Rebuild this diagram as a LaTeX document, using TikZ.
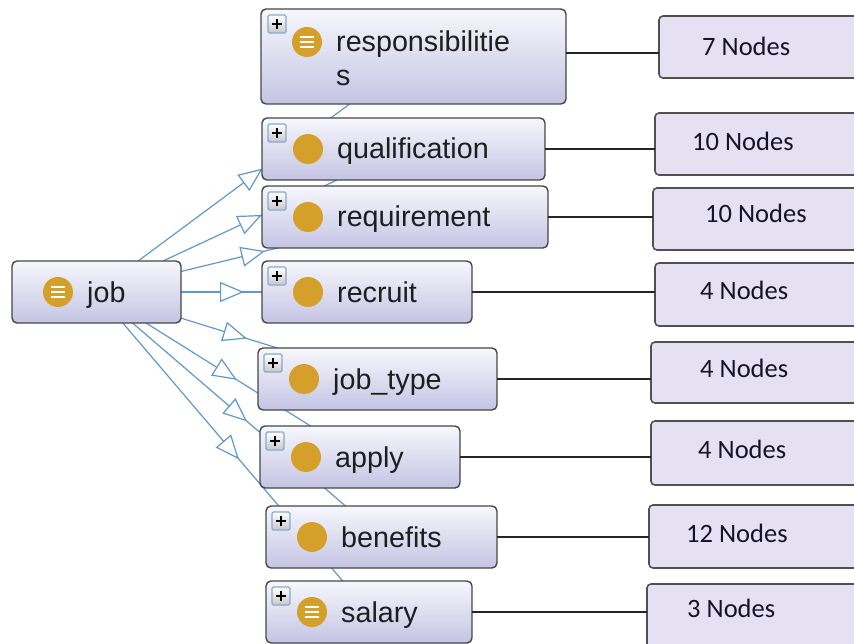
\documentclass[tikz,border=0pt]{standalone}
\usepackage{fontspec}
\setmainfont{Liberation Sans}
\newfontfamily\cntfont{Carlito}
\usetikzlibrary{arrows.meta,decorations.markings}

\definecolor{clsline}{RGB}{70,70,70}
\definecolor{clstop}{RGB}{247,247,253}
\definecolor{clsbot}{RGB}{196,196,228}
\definecolor{cntline}{RGB}{80,80,80}
\definecolor{cntfill}{RGB}{229,225,243}
\definecolor{lbltext}{RGB}{30,30,30}
\definecolor{cnttext}{RGB}{20,20,40}
\definecolor{ballcol}{RGB}{212,160,42}
\definecolor{edgecol}{RGB}{95,152,205}
\definecolor{plusline}{RGB}{135,170,205}
\definecolor{plusbot}{RGB}{200,200,200}

\pgfdeclarelayer{edges}
\pgfsetlayers{edges,main}

\tikzset{
  cls/.style={draw=clsline, line width=1.4pt, rounded corners=5pt,
    top color=clstop, bottom color=clsbot, inner sep=0pt, outer sep=0pt},
  cnt/.style={draw=cntline, line width=1.6pt, rounded corners=4pt,
    fill=cntfill, inner sep=0pt, outer sep=0pt},
  lbl/.style={anchor=base west, inner sep=0pt,
    font=\fontsize{28.7}{34}\selectfont, text=lbltext},
  cntlbl/.style={anchor=base west, inner sep=0pt,
    font=\cntfont\fontsize{26.5}{30}\selectfont, text=cnttext},
  plusbox/.style={draw=plusline, line width=1.2pt, rounded corners=1.5pt,
    top color=white, bottom color=plusbot, minimum size=18pt, inner sep=0pt,
    path picture={
      \draw[black, line width=2.2pt]
        ([xshift=-5pt]path picture bounding box.center) --
        ([xshift=5pt]path picture bounding box.center);
      \draw[black, line width=2.2pt]
        ([yshift=-5pt]path picture bounding box.center) --
        ([yshift=5pt]path picture bounding box.center);}},
  ball/.style={circle, fill=ballcol, minimum size=30pt, inner sep=0pt},
  listball/.style={ball, path picture={
      \foreach \dy in {-5,0,5}
        \draw[white, line width=2.4pt]
          ([shift={(-7,\dy)}]path picture bounding box.center) --
          ([shift={(7,\dy)}]path picture bounding box.center);}},
  isa/.style={draw=edgecol, line width=1.2pt, postaction=decorate,
    decoration={markings, mark=at position #1 with
      {\arrow{Triangle[length=24pt,width=20pt,fill=white]}}}},
  link/.style={draw=black!85, line width=1.2pt}
}

\begin{document}
\begin{tikzpicture}[x=1pt, y=-1pt]
\useasboundingbox (0,0) rectangle (854,644);

% class boxes
\node[cls, minimum width=169pt, minimum height=62pt] (job)  at (96.5,292) {};
\node[cls, minimum width=305pt, minimum height=95pt] (resp) at (413.5,56.5) {};
\node[cls, minimum width=283pt, minimum height=62pt] (qual) at (403.5,149) {};
\node[cls, minimum width=286pt, minimum height=62pt] (req)  at (405,217) {};
\node[cls, minimum width=210pt, minimum height=62pt] (rec)  at (367,292) {};
\node[cls, minimum width=239pt, minimum height=62pt] (jt)   at (377.5,379) {};
\node[cls, minimum width=200pt, minimum height=62pt] (app)  at (360,457) {};
\node[cls, minimum width=231pt, minimum height=62pt] (ben)  at (381.5,537) {};
\node[cls, minimum width=206pt, minimum height=62pt] (sal)  at (369,612) {};

% expand buttons
\node[plusbox] (respplus) at (277,24) {};
\node[plusbox] (qualplus) at (277,133) {};
\node[plusbox] (reqplus)  at (277,201) {};
\node[plusbox] (recplus)  at (277,276) {};
\node[plusbox] (jtplus)   at (273,363) {};
\node[plusbox] (appplus)  at (275,441) {};
\node[plusbox] (benplus)  at (281,521) {};
\node[plusbox] (salplus)  at (281,596) {};

% class icons
\node[listball] (jobball)  at (58,292) {};
\node[listball] (respball) at (307,42) {};
\node[ball]     (qualball) at (308,149) {};
\node[ball]     (reqball)  at (308,217) {};
\node[ball]     (recball)  at (308,292) {};
\node[ball]     (jtball)   at (304,379) {};
\node[ball]     (appball)  at (306,457) {};
\node[ball]     (benball)  at (312,537) {};
\node[listball] (salball)  at (312,612) {};

% class names
\node[lbl] (jobtxt)   at (87,302)  {job};
\node[lbl] (resptxt)  at (336,52)  {responsibilitie};
\node[lbl] (resptxtb) at (336,86)  {s};
\node[lbl] (qualtxt)  at (337,159) {qualification};
\node[lbl] (reqtxt)   at (337,227) {requirement};
\node[lbl] (rectxt)   at (337,302) {recruit};
\node[lbl] (jttxt)    at (333,389) {job\_type};
\node[lbl] (apptxt)   at (335,467) {apply};
\node[lbl] (bentxt)   at (341,547) {benefits};
\node[lbl] (saltxt)   at (341,622) {salary};

% count boxes
\node[cnt, minimum width=211pt, minimum height=62pt] (respn) at (764.5,47) {};
\node[cnt, minimum width=215pt, minimum height=62pt] (qualn) at (762.5,144) {};
\node[cnt, minimum width=217pt, minimum height=62pt] (reqn)  at (761.5,219) {};
\node[cnt, minimum width=215pt, minimum height=63pt] (recn)  at (762.5,294.5) {};
\node[cnt, minimum width=219pt, minimum height=61pt] (jtn)   at (760.5,372.5) {};
\node[cnt, minimum width=219pt, minimum height=64pt] (appn)  at (760.5,453) {};
\node[cnt, minimum width=221pt, minimum height=63pt] (benn)  at (759.5,536.5) {};
\node[cnt, minimum width=223pt, minimum height=76pt] (saln)  at (758.5,622) {};

\node[cntlbl] (respntxt) at (702,56)  {7 Nodes};
\node[cntlbl] (qualntxt) at (692,151) {10 Nodes};
\node[cntlbl] (reqntxt)  at (705,223) {10 Nodes};
\node[cntlbl] (recntxt)  at (700,300) {4 Nodes};
\node[cntlbl] (jtntxt)   at (700,377) {4 Nodes};
\node[cntlbl] (appntxt)  at (698,458) {4 Nodes};
\node[cntlbl] (benntxt)  at (686,542) {12 Nodes};
\node[cntlbl] (salntxt)  at (687,617) {3 Nodes};

% class-to-count links
\draw[link] ([yshift=3.5pt]resp.east) -- ([yshift=3.5pt]resp.east -| respn.west);
\draw[link] (qual.east) -- (qual.east -| qualn.west);
\draw[link] (req.east)  -- (req.east -| reqn.west);
\draw[link] (rec.east)  -- (rec.east -| recn.west);
\draw[link] (jt.east)   -- (jt.east -| jtn.west);
\draw[link] (app.east)  -- (app.east -| appn.west);
\draw[link] (ben.east)  -- (ben.east -| benn.west);
\draw[link] (sal.east)  -- (sal.east -| saln.west);

% subclass edges, behind the boxes
\begin{pgfonlayer}{edges}
\draw[isa=155pt]  (job) -- (resp);
\draw[isa=109pt]  (job) -- (qual);
\draw[isa=86.5pt] (job) -- (req);
\draw[isa=63pt]   (job) -- (rec);
\draw[isa=69pt]   (job) -- (jt);
\draw[isa=107pt]  (job) -- (app);
\draw[isa=151pt]  (job) -- (ben);
\draw[isa=179pt]  (job) -- (sal);
\end{pgfonlayer}
\end{tikzpicture}
\end{document}
